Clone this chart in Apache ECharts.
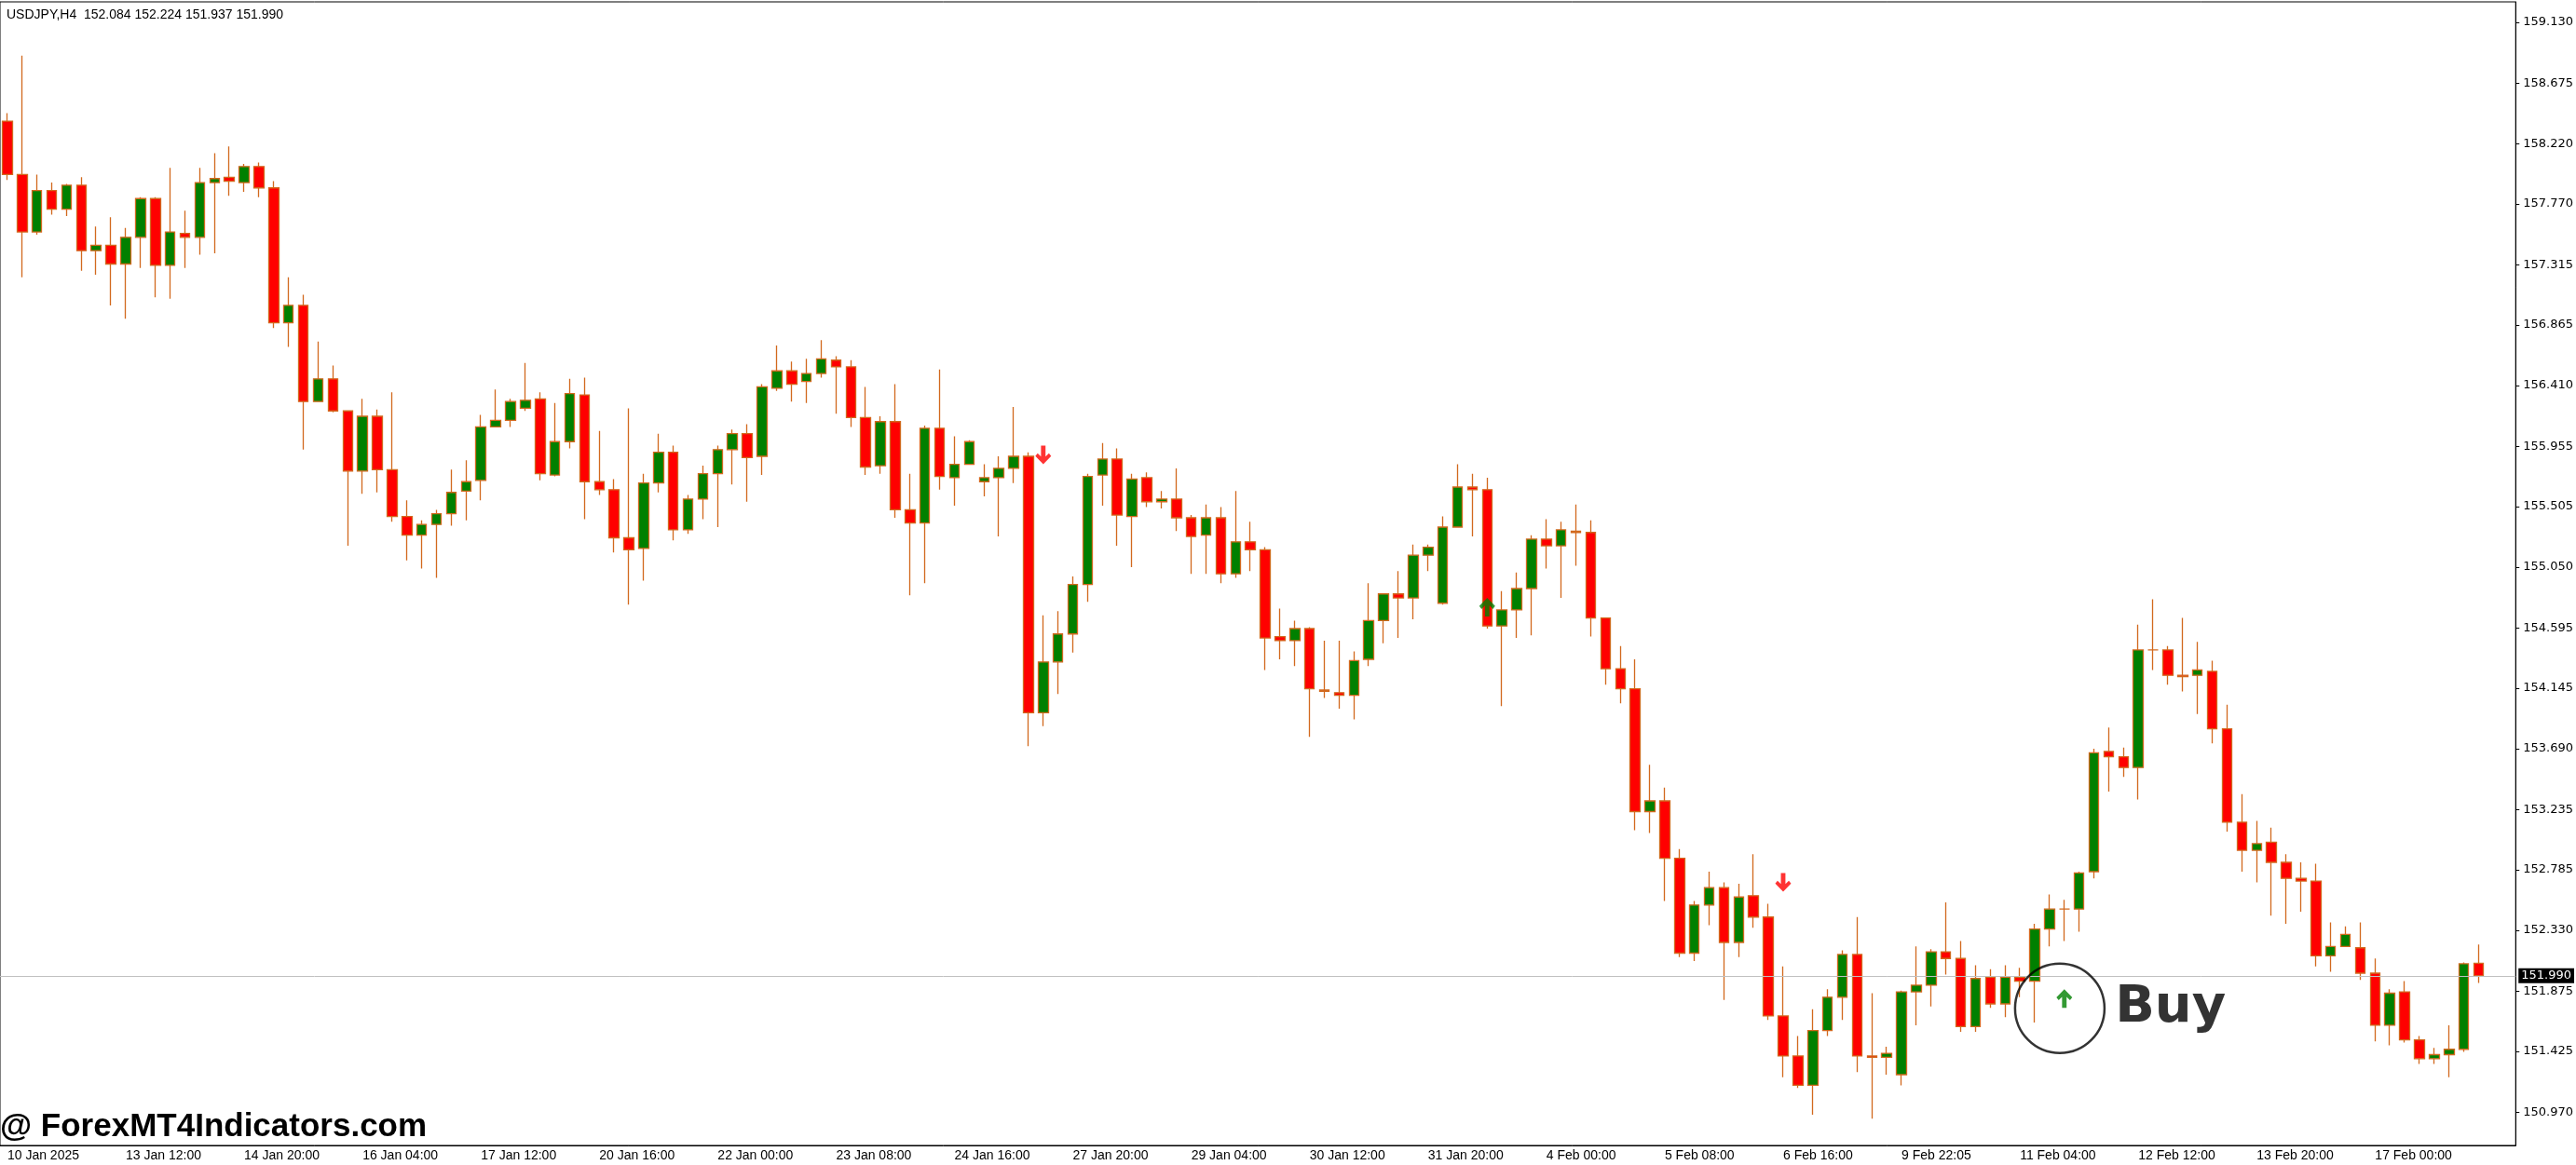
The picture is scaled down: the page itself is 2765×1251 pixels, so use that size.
<!DOCTYPE html>
<html><head><meta charset="utf-8">
<script src="https://cdn.jsdelivr.net/npm/echarts@6/dist/echarts.min.js"></script>
<style>html,body{margin:0;padding:0;background:#fff;}#c{width:2765px;height:1251px;}</style>
</head><body><div id="c"></div>
<script>
const titleText = 'USDJPY,H4  152.084 152.224 151.937 151.990';
const watermark = '@ ForexMT4Indicators.com';
const xTickLabels = ['10 Jan 2025','13 Jan 12:00','14 Jan 20:00','16 Jan 04:00','17 Jan 12:00','20 Jan 16:00','22 Jan 00:00','23 Jan 08:00','24 Jan 16:00','27 Jan 20:00','29 Jan 04:00','30 Jan 12:00','31 Jan 20:00','4 Feb 00:00','5 Feb 08:00','6 Feb 16:00','9 Feb 22:05','11 Feb 04:00','12 Feb 12:00','13 Feb 20:00','17 Feb 00:00','',''];
const yTicks = [159.130,158.675,158.220,157.770,157.315,156.865,156.410,155.955,155.505,155.050,154.595,154.145,153.690,153.235,152.785,152.330,151.875,151.425,150.970];
const lastPrice = 151.990;
const opens = [158.39,157.99,157.56,157.87,157.73,157.91,157.42,157.46,157.32,157.52,157.81,157.31,157.55,157.52,157.93,157.97,157.93,158.05,157.89,156.88,
157.01,156.29,156.46,156.22,155.77,156.18,155.78,155.43,155.29,155.37,155.45,155.62,155.70,156.10,156.15,156.24,156.31,155.74,155.99,156.34,
155.69,155.63,155.27,155.19,155.68,155.91,155.33,155.56,155.75,155.93,156.05,155.88,156.39,156.52,156.44,156.50,156.60,156.55,156.17,155.81,
156.14,155.48,155.38,156.09,155.72,155.82,155.69,155.72,155.79,155.88,153.96,154.34,154.55,154.92,155.74,155.86,155.43,155.72,155.54,155.56,
155.42,155.29,155.42,155.00,155.24,155.18,154.53,154.50,154.59,154.13,154.11,154.09,154.36,154.65,154.85,154.82,155.14,154.78,155.35,155.65,
155.63,154.61,154.73,154.89,155.26,155.21,155.32,155.31,154.67,154.29,154.14,153.22,153.30,152.87,152.16,152.52,152.65,152.24,152.59,152.43,
151.69,151.39,151.17,151.58,151.83,152.15,151.39,151.38,151.25,151.87,151.92,152.17,152.12,151.61,151.98,151.78,151.98,151.95,152.34,152.49,
152.49,152.77,153.67,153.63,153.55,154.43,154.43,154.24,154.24,154.27,153.84,153.14,152.93,152.99,152.84,152.72,152.70,152.14,152.21,152.20,
152.01,151.62,151.87,151.51,151.37,151.40,151.44,152.084];
const highs = [158.45,158.88,157.99,157.93,157.92,157.97,157.60,157.67,157.59,157.82,157.82,158.04,157.72,158.04,158.15,158.20,158.07,158.08,157.94,157.22,
157.09,156.74,156.56,156.22,156.31,156.23,156.36,155.55,155.40,155.48,155.78,155.85,156.19,156.38,156.31,156.58,156.36,156.28,156.46,156.47,
156.07,155.71,156.24,155.75,156.05,155.96,155.59,155.81,155.96,156.08,156.12,156.42,156.71,156.59,156.61,156.75,156.63,156.60,156.40,156.18,
156.42,155.75,156.11,156.53,156.03,156.00,155.82,155.88,156.25,155.91,154.69,154.72,154.98,155.75,155.98,155.94,155.75,155.76,155.62,155.79,
155.44,155.52,155.50,155.62,155.39,155.20,154.74,154.65,154.60,154.50,154.50,154.42,154.93,154.85,155.02,155.22,155.22,155.43,155.82,155.75,
155.72,154.87,155.01,155.29,155.41,155.39,155.52,155.40,154.67,154.46,154.36,153.57,153.40,152.94,152.55,152.77,152.69,152.68,152.90,152.53,
152.06,151.54,151.74,151.89,152.18,152.43,151.86,151.46,151.88,152.21,152.19,152.54,152.25,152.07,152.04,152.07,152.05,152.38,152.60,152.56,
152.77,153.69,153.85,153.70,154.62,154.81,154.46,154.67,154.49,154.35,154.02,153.35,153.15,153.10,152.90,152.84,152.83,152.39,152.36,152.39,
152.12,151.89,151.95,151.54,151.45,151.62,152.09,152.224];
const lows = [157.95,157.22,157.54,157.69,157.68,157.27,157.24,157.01,156.91,157.29,157.07,157.06,157.29,157.39,157.40,157.83,157.86,157.82,156.84,156.70,
155.93,156.29,156.21,155.21,155.60,155.61,155.39,155.10,155.04,154.97,155.36,155.40,155.55,156.10,156.10,156.22,155.70,155.73,155.94,155.41,
155.59,155.16,154.77,154.95,155.61,155.25,155.30,155.41,155.35,155.67,155.54,155.74,156.37,156.29,156.28,156.47,156.20,156.10,155.74,155.75,
155.42,154.84,154.93,155.63,155.51,155.82,155.58,155.28,155.68,153.71,153.86,154.10,154.41,154.79,155.51,155.21,155.05,155.50,155.49,155.32,
155.00,155.00,154.93,154.97,155.02,154.28,154.36,154.31,153.78,154.07,153.99,153.91,154.31,154.48,154.52,154.66,155.02,154.77,155.35,155.28,
154.59,154.01,154.52,154.54,155.04,154.82,155.06,154.53,154.17,154.03,153.08,153.06,152.55,152.13,152.10,152.37,151.81,152.13,152.35,151.66,
151.23,151.15,150.95,151.54,151.66,151.27,150.92,151.25,151.17,151.62,151.76,152.00,151.57,151.57,151.75,151.68,151.83,151.64,152.21,152.25,
152.32,152.72,153.37,153.48,153.31,154.28,154.17,154.12,153.95,153.73,153.07,152.77,152.69,152.44,152.38,152.47,152.06,152.02,152.21,151.96,
151.50,151.47,151.49,151.33,151.33,151.23,151.42,151.937];
const closes = [157.99,157.56,157.87,157.73,157.91,157.42,157.46,157.32,157.52,157.81,157.31,157.56,157.52,157.93,157.96,157.94,158.05,157.89,156.88,157.01,
156.29,156.46,156.22,155.77,156.18,155.78,155.43,155.29,155.37,155.45,155.61,155.69,156.10,156.15,156.29,156.30,155.75,155.99,156.35,155.69,
155.63,155.27,155.18,155.68,155.91,155.33,155.56,155.75,155.93,156.05,155.87,156.40,156.52,156.42,156.50,156.61,156.55,156.17,155.80,156.14,
155.48,155.38,156.09,155.73,155.82,155.99,155.72,155.79,155.88,153.96,154.34,154.55,154.92,155.73,155.86,155.44,155.71,155.54,155.56,155.42,
155.28,155.42,155.00,155.24,155.18,154.52,154.50,154.59,154.14,154.12,154.09,154.35,154.65,154.85,154.82,155.14,155.20,155.35,155.65,155.63,
154.61,154.73,154.89,155.26,155.21,155.33,155.31,154.67,154.29,154.14,153.22,153.30,152.87,152.16,152.52,152.65,152.24,152.58,152.43,151.69,
151.39,151.17,151.58,151.83,152.15,151.39,151.38,151.41,151.87,151.92,152.17,152.12,151.61,151.97,151.78,151.98,151.95,152.34,152.49,152.49,
152.76,153.66,153.63,153.55,154.43,154.43,154.24,154.23,154.28,153.84,153.14,152.93,152.98,152.84,152.72,152.70,152.14,152.21,152.30,152.01,
151.62,151.86,151.51,151.37,151.40,151.44,152.08,151.990];
const sellArrows = [[70,155.89],[120,152.69]];
const buyArrows = [[100,154.75],[139,151.82]];
const buyCircle = [[138,151.747]];

const nSlots = opens.length + 2;
const cats = [];
for (let i = 0; i < nSlots; i++) cats.push(i % 8 === 0 ? xTickLabels[i / 8] : 'b' + i);
const candles = opens.map((o, i) => [o, closes[i], lows[i], highs[i]]);

const downPath = 'path://M3.4,0 L6.6,0 L6.6,7.6 L9,5.3 L10.6,7.3 L5,13 L-0.6,7.3 L1,5.3 L3.4,7.6 Z';
const upPath = 'path://M3.4,13 L6.6,13 L6.6,5.4 L9,7.7 L10.6,5.7 L5,0 L-0.6,5.7 L1,7.7 L3.4,5.4 Z';

const chart = echarts.init(document.getElementById('c'));
chart.setOption({
  animation: false,
  backgroundColor: '#fff',
  title: { text: titleText, left: 2, top: 4, textStyle: { fontFamily: 'Liberation Sans', fontSize: 14, fontWeight: 'normal', color: '#000' } },
  graphic: [{ type: 'text', left: 0, top: 1193, style: { text: watermark, fontFamily: 'Liberation Sans', fontSize: 35, fontWeight: 'bold', fill: '#000' } }],
  grid: { left: -11, right: 61, top: 2, bottom: 21, show: true, borderColor: '#000', borderWidth: 1, backgroundColor: '#fff' },
  xAxis: {
    type: 'category', data: cats, boundaryGap: true,
    axisLine: { lineStyle: { color: '#000', width: 1 } },
    axisTick: { alignWithLabel: true, length: 4, lineStyle: { color: '#000' }, interval: (i) => i % 8 === 0 },
    axisLabel: { interval: (i) => i % 8 === 0, align: 'left', margin: 4, fontFamily: 'Liberation Sans Narrow, Liberation Sans', fontSize: 14, color: '#000',
      formatter: (v) => v.charAt(0) === 'b' ? '' : v },
    splitLine: { show: false }
  },
  yAxis: {
    type: 'value', position: 'right', min: 150.72, max: 159.283, scale: true,
    axisLine: { show: true, lineStyle: { color: '#000', width: 1 } },
    axisTick: { show: true, length: 4, customValues: yTicks, lineStyle: { color: '#000' } },
    axisLabel: { customValues: yTicks, formatter: (v) => v.toFixed(3), margin: 8, fontFamily: 'DejaVu Sans', fontSize: 13, color: '#000' },
    splitLine: { show: false }
  },
  series: [
    { type: 'candlestick', data: candles, barWidth: 11,
      itemStyle: { color: '#008000', color0: '#ff0000', borderColor: '#d2691e', borderColor0: '#d2691e', borderWidth: 1.3 },
      markLine: { silent: true, symbol: ['none', 'none'], animation: false,
        lineStyle: { color: '#c0c0c0', width: 1, type: 'solid' },
        label: { position: 'end', distance: 3, formatter: lastPrice.toFixed(3), backgroundColor: '#000', color: '#fff', padding: [2, 3, 1, 3], fontFamily: 'DejaVu Sans', fontSize: 13 },
        data: [{ yAxis: lastPrice }] } },
    { type: 'scatter', data: sellArrows, symbol: downPath, symbolSize: [17, 20], itemStyle: { color: '#ff0000' }, z: 5 },
    { type: 'scatter', data: buyArrows, symbol: upPath, symbolSize: [17, 20], itemStyle: { color: '#008000' }, z: 5 },
    { type: 'scatter', data: buyCircle, symbol: 'circle', symbolSize: 96, symbolOffset: [11, 0],
      itemStyle: { color: 'rgba(0,0,0,0)', borderColor: '#000', borderWidth: 2.5 }, z: 6,
      label: { show: true, position: 'right', distance: 10, formatter: 'Buy', fontFamily: 'DejaVu Sans', fontSize: 56, fontWeight: 'bold', color: '#000' } }
  ]
});
</script></body></html>
